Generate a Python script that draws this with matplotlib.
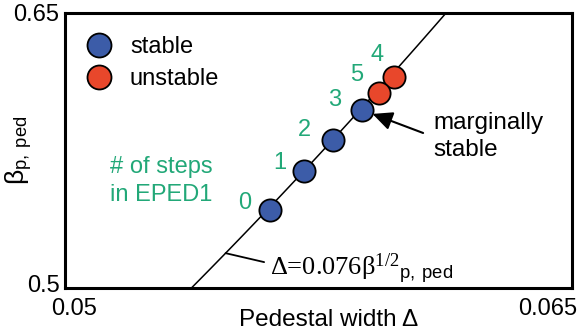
import numpy as np
import matplotlib
matplotlib.use('Agg')
import matplotlib.pyplot as plt
from matplotlib.transforms import ScaledTranslation

plt.rcParams['font.family'] = ['Liberation Sans', 'DejaVu Sans']
plt.rcParams['mathtext.fontset'] = 'custom'
plt.rcParams['mathtext.rm'] = 'Liberation Serif'
plt.rcParams['mathtext.it'] = 'Liberation Serif:italic'
plt.rcParams['mathtext.sf'] = 'Liberation Sans'

# EPED1 iteration steps
steps = [0, 1, 2, 3, 4, 5]
delta = [0.05607, 0.05707, 0.05793, 0.05879, 0.05973, 0.05929]
beta = [0.5425, 0.5638, 0.5807, 0.5971, 0.6151, 0.6064]
is_stable = [True, True, True, True, False, False]

# label offsets (pixels) for the step numbers
label_dx = [-25, -24, -29, -27, -17, -22]
label_dy = [7, 8, 10, 10, 22, 18]

# fit: delta = 0.076 * beta^(1/2)
coef = 0.076
beta_fit = np.linspace(0.45, 0.70, 60)
delta_fit = coef * np.sqrt(beta_fit)

blue = '#3c5ca8'
red = '#e8472b'
green = '#22a878'

fig = plt.figure(figsize=(5.82, 3.35), dpi=100)
ax = fig.add_axes([65 / 582, 47 / 335, 507 / 582, 275 / 335])

ax.plot(delta_fit, beta_fit, color='black', lw=1.1, zorder=1)

d = np.array(delta)
b = np.array(beta)
st = np.array(is_stable)
ax.plot(d[st], b[st], 'o', ls='none', ms=16, mfc=blue, mec='black', mew=1.3,
        label='stable', zorder=3)
ax.plot(d[~st], b[~st], 'o', ls='none', ms=16, mfc=red, mec='black', mew=1.3,
        label='unstable', zorder=2)

for s, x, y, dx, dy in zip(steps, delta, beta, label_dx, label_dy):
    ax.annotate(str(s), xy=(x, y), xytext=(dx, dy), textcoords='offset pixels',
                ha='center', va='center', fontsize=17, color=green)

ax.text(0.089, 0.39, '# of steps\nin EPED1', transform=ax.transAxes, fontsize=17,
        color=green, ha='left', va='center', linespacing=1.35)

# marginally stable arrow
ax.annotate('', xy=(delta[3], beta[3]), xytext=(61, -23), textcoords='offset pixels',
            arrowprops=dict(arrowstyle='-|>,head_length=0.6,head_width=0.28',
                            mutation_scale=20, color='black', lw=1.5,
                            shrinkA=0, shrinkB=8))
ax.annotate('marginally\nstable', xy=(delta[3], beta[3]), xytext=(71, -2),
            textcoords='offset pixels', ha='left', va='top', fontsize=17.5,
            linespacing=1.3)

# fit label with leader line
b_lead = 0.519
ax.annotate('Δ=0.076β$^{1/2}{}_{\\mathsf{p,\\ ped}}$', xy=(coef * np.sqrt(b_lead), b_lead),
            xytext=(44, -22), textcoords='offset pixels', ha='left', va='baseline',
            fontsize=19, family=['Liberation Serif', 'DejaVu Serif'],
            arrowprops=dict(arrowstyle='-', color='black', lw=1.3, shrinkA=2, shrinkB=0,
                            relpos=(0, 0.65)))

ax.set_xlim(0.05, 0.065)
ax.set_ylim(0.5, 0.65)
ax.set_xticks([0.05, 0.065])
ax.set_xticklabels(['0.05', '0.065'], fontsize=17)
ax.set_yticks([0.5, 0.65])
ax.set_yticklabels(['0.5', '0.65'], fontsize=17)
ax.tick_params(length=0, pad=4)
ax.tick_params(axis='x', pad=7)
xl = ax.get_xticklabels()
xl[0].set_ha('left')
xl[0].set_transform(xl[0].get_transform() + ScaledTranslation(-10 / 72, 0, fig.dpi_scale_trans))
xl[1].set_ha('right')
xl[1].set_transform(xl[1].get_transform() + ScaledTranslation(4 / 72, 0, fig.dpi_scale_trans))
yl = ax.get_yticklabels()
yl[0].set_transform(yl[0].get_transform() + ScaledTranslation(0, 3 / 72, fig.dpi_scale_trans))

for sp in ax.spines.values():
    sp.set_linewidth(2.2)

ax.set_xlabel('Pedestal width Δ', fontsize=17.5)
ax.xaxis.set_label_coords(0.52, -0.075)
ax.set_ylabel('β$_{\\mathsf{p,\\ ped}}$', fontsize=19)
ax.yaxis.set_label_coords(-0.06, 0.50)

ax.legend(loc='upper left', bbox_to_anchor=(0.0, 0.99), frameon=False, fontsize=17,
          handletextpad=0.7, borderpad=0.5, labelspacing=0.45, borderaxespad=0.35,
          handlelength=1.2, markerscale=1.08)

fig.savefig('out.png', dpi=100)
